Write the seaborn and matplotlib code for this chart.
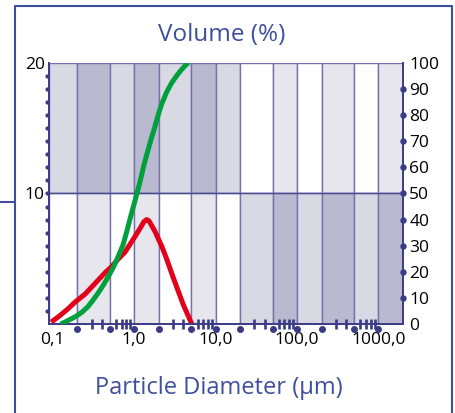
import numpy as np
import pandas as pd
import matplotlib
matplotlib.use('Agg')
import matplotlib.pyplot as plt
import matplotlib.transforms as mtransforms
from matplotlib.lines import Line2D
from matplotlib.ticker import NullFormatter
import seaborn as sns

# frequency curve, left axis (%)
freq_size = [0.096, 0.12, 0.15, 0.19, 0.25, 0.33, 0.45, 0.53, 0.62, 0.77, 1.0, 1.2,
             1.32, 1.42, 1.52, 1.62, 1.8, 2.2, 2.5, 3.0, 4.0, 5.1]
freq_vol = [0.15, 0.6, 1.1, 1.7, 2.3, 3.1, 4.0, 4.4, 4.9, 5.5, 6.6, 7.4,
            7.85, 8.0, 7.9, 7.6, 7.1, 5.9, 5.0, 3.6, 1.5, 0.0]

# cumulative curve, right axis (%)
cum_size = [0.125, 0.14, 0.16, 0.19, 0.23, 0.27, 0.31, 0.36, 0.42, 0.48, 0.55, 0.61, 0.73,
            0.82, 0.93, 1.05, 1.18, 1.32, 1.48, 1.65, 1.8, 1.98, 2.17, 2.5, 2.89, 3.3,
            3.8, 4.2, 4.6]
cum_vol = [0, 0.7, 1.6, 2.8, 4.6, 6.6, 9.0, 11.8, 15.0, 18.1, 21.5, 24.5, 30.3,
           36.0, 42.5, 48.5, 54.5, 61.0, 66.7, 71.8, 75.6, 80.3, 84.2, 88.8, 92.4, 95.0,
           97.4, 98.9, 100]

# background size classes
band_edges = [0.09, 0.2, 0.5, 1, 2, 5, 10, 20, 50, 100, 200, 500, 1000, 2000]
top_shade = ['light', 'dark', 'light', 'dark', 'light', 'dark', 'light',
             'white', 'pale', 'white', 'pale', 'white', 'pale']
bottom_shade = ['white', 'pale', 'white', 'pale', 'white', 'pale', 'white',
                'light', 'dark', 'light', 'dark', 'light', 'dark']

x_labels = ['0,1', '1,0', '10,0', '100,0', '1000,0']
x_label_pos = [0.1, 1, 10, 100, 1000]
x_dots = [0.2, 0.5, 1, 2, 5, 10, 20, 50, 100, 200, 500, 1000]
x_minor = [0.3, 0.4, 0.6, 0.7, 0.8, 0.9, 3, 4, 6, 7, 8, 9,
           30, 40, 60, 70, 80, 90, 300, 400, 600, 700, 800, 900]
left_ticks = [10, 20]
left_dots = [v for v in range(1, 20)]
right_ticks = list(range(0, 101, 10))
right_dots = list(range(10, 100, 10))

shade_colors = {'dark': '#b9b9d0', 'light': '#d9d9e3', 'pale': '#e6e6ec', 'white': '#ffffff'}
navy = '#3b3a86'
blue = '#3f4f9f'

sns.set_style('white')
plt.rcParams['font.family'] = ['Open Sans', 'DejaVu Sans']

fig = plt.figure(figsize=(4.55, 4.13), dpi=100)
ax = fig.add_axes([49/455, 89/413, 354/455, 261/413])
ax.set_axisbelow(False)
ax.set_xscale('log')
ax.set_xlim(0.09, 2000)
ax.set_ylim(0, 20)

lefts = band_edges[:-1]
widths = [b - a for a, b in zip(band_edges[:-1], band_edges[1:])]
ax.bar(lefts, [10] * len(lefts), width=widths, bottom=10, align='edge',
       color=[shade_colors[s] for s in top_shade], edgecolor='#7472ad', linewidth=1.0, zorder=1)
ax.bar(lefts, [10] * len(lefts), width=widths, bottom=0, align='edge',
       color=[shade_colors[s] for s in bottom_shade], edgecolor='#7472ad', linewidth=1.0, zorder=1)
ax.axhline(10, color='#4d4b92', lw=1.0, zorder=2)

freq = pd.DataFrame({'size': freq_size, 'vol': freq_vol})
sns.lineplot(data=freq, x='size', y='vol', ax=ax, color='#e2001a', lw=3.6,
             solid_capstyle='butt', solid_joinstyle='round', zorder=3)

ax.spines['top'].set_visible(False)
for s in ['left', 'bottom', 'right']:
    ax.spines[s].set_color(navy)
    ax.spines[s].set_linewidth(1.4)
    ax.spines[s].set_zorder(4)

ax.set_xticks(x_label_pos, x_labels)
ax.set_xticks(x_minor, minor=True)
ax.xaxis.set_minor_formatter(NullFormatter())
ax.tick_params(axis='x', which='major', bottom=True, length=0, pad=6, labelsize=12.5, labelcolor='black')
ax.tick_params(axis='x', which='minor', bottom=True, direction='inout', length=6.5, width=1.9, color=navy)
ax.set_yticks(left_ticks, [str(v) for v in left_ticks])
ax.tick_params(axis='y', which='both', length=0, pad=3, labelsize=12.5, labelcolor='black', left=True, right=False)
ax.set_xlabel('')
ax.set_ylabel('')

# dots under the x axis and beside the left axis
off_down = mtransforms.ScaledTranslation(0, -5/100, fig.dpi_scale_trans)
ax.plot(x_dots, [0] * len(x_dots), ls='none', marker='o', ms=4.0, color=navy,
        transform=ax.get_xaxis_transform() + off_down, clip_on=False, zorder=5)
off_left = mtransforms.ScaledTranslation(-2.5/100, 0, fig.dpi_scale_trans)
ax.plot([0] * len(left_dots), left_dots, ls='none', marker='o', ms=2.0, color=navy,
        transform=ax.get_yaxis_transform() + off_left, clip_on=False, zorder=5)

ax2 = ax.twinx()
ax2.set_ylim(0, 100)
cum = pd.DataFrame({'size': cum_size, 'vol': cum_vol})
sns.lineplot(data=cum, x='size', y='vol', ax=ax2, color='#00a03c', lw=3.6,
             solid_capstyle='butt', solid_joinstyle='round', zorder=3)
ax2.set_xlim(0.09, 2000)
for s in ax2.spines.values():
    s.set_visible(False)
ax2.set_yticks(right_ticks, [str(v) for v in right_ticks])
ax2.tick_params(axis='y', right=True, length=0, pad=4.5, labelsize=12.5, labelcolor='black')
ax2.set_ylabel('')
ax2.plot([1] * len(right_dots), right_dots, ls='none', marker='o', ms=3.6, color=navy,
         transform=ax2.get_yaxis_transform(), clip_on=False, zorder=5)

fig.text(222/455, 1 - 35/413, 'Volume (%)', ha='center', va='center', fontsize=17.5, color=blue)
fig.text(219/455, 1 - 388/413, 'Particle Diameter (µm)', ha='center', va='center', fontsize=17, color=blue)

# outer callout frame
fr = fig.dpi_scale_trans
fig.add_artist(Line2D([0.15, 0.15, 4.52, 4.52], [-0.2, 4.07, 4.07, -0.2],
                      transform=fr, color=blue, lw=1.5))
fig.add_artist(Line2D([0.0, 0.15], [2.11, 2.11], transform=fr, color=blue, lw=1.5))

fig.savefig('out.png', dpi=100)
